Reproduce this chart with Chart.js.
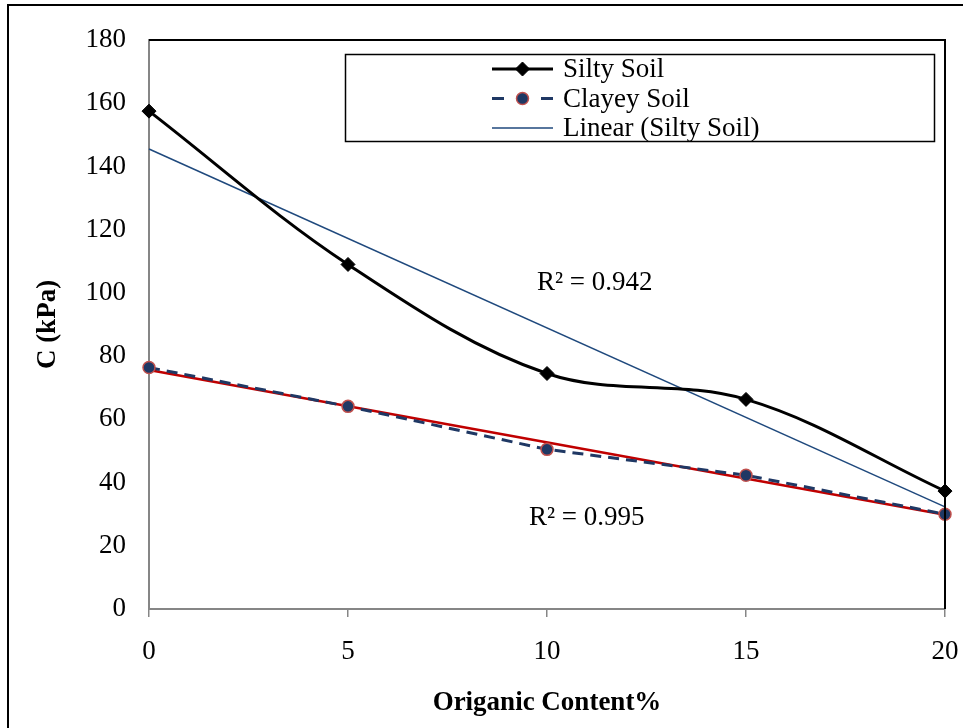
<!DOCTYPE html>
<html>
<head>
<meta charset="utf-8">
<script src="https://cdn.jsdelivr.net/npm/chart.js@4.4.1/dist/chart.umd.min.js"></script>
<style>
  body { margin: 0; background: #fff; overflow: hidden; }
</style>
</head>
<body>
<canvas id="myChart" width="963" height="728"></canvas>
<script>
let organic = [0, 5, 10, 15, 20];
let silty = [157.5, 109, 74.5, 66.3, 37.3];
let clayey = [76.4, 64.1, 50.5, 42.3, 30];

// trendline end points
let trendX = [0, 20];
let siltyTrend = [145.5, 32.3];
let clayeyTrend = [75.6, 29.8];

let xTicks = [0, 5, 10, 15, 20];
let yTicks = [0, 20, 40, 60, 80, 100, 120, 140, 160, 180];

let r2Text = ["R\u00b2 = 0.942", "R\u00b2 = 0.995"];
let r2X = [11.2, 11.0];
let r2Y = [103.3, 28.7];

const serif = '"Liberation Serif", "Times New Roman", serif';

function pts(xs, ys) {
  return xs.map((x, i) => ({ x: x, y: ys[i] }));
}

// legend drawn inside the plot, like the Excel one
const boxLegend = {
  id: "boxLegend",
  afterDatasetsDraw(chart) {
    let ctx = chart.ctx;
    ctx.save();
    ctx.fillStyle = "#fff";
    ctx.fillRect(345, 54, 589, 87);
    ctx.strokeStyle = "#000";
    ctx.lineWidth = 1.5;
    ctx.strokeRect(345.5, 54.5, 589, 87);

    [0, 1, 2].forEach((idx, i) => {
      let ds = chart.data.datasets[idx];
      let y = 69 + i * 29.5;
      let x0 = 492, x1 = 553;
      ctx.strokeStyle = ds.borderColor;
      ctx.lineWidth = ds.borderWidth;
      ctx.setLineDash([]);
      ctx.beginPath();
      if (ds.borderDash) {
        ctx.moveTo(x0, y); ctx.lineTo(x0 + 12, y);
        ctx.moveTo(x1 - 12, y); ctx.lineTo(x1, y);
      } else {
        ctx.moveTo(x0, y); ctx.lineTo(x1, y);
      }
      ctx.stroke();
      if (ds.pointRadius > 0) {
        ctx.fillStyle = ds.pointBackgroundColor;
        ctx.strokeStyle = ds.pointBorderColor;
        ctx.lineWidth = ds.pointBorderWidth;
        Chart.helpers.drawPoint(ctx, {
          pointStyle: ds.pointStyle,
          radius: ds.pointRadius,
          borderWidth: ds.pointBorderWidth,
          rotation: 0
        }, (x0 + x1) / 2, y);
      }
      ctx.fillStyle = "#000";
      ctx.font = "27px " + serif;
      ctx.textBaseline = "middle";
      ctx.textAlign = "left";
      ctx.fillText(ds.label, 563, y + 1);
    });
    ctx.restore();
  }
};

const extras = {
  id: "extras",
  afterDatasetsDraw(chart) {
    let ctx = chart.ctx;
    let sx = chart.scales.x, sy = chart.scales.y;
    ctx.save();
    ctx.fillStyle = "#000";
    ctx.font = "27px " + serif;
    ctx.textAlign = "center";
    ctx.textBaseline = "middle";
    r2Text.forEach((t, i) => {
      ctx.fillText(t, sx.getPixelForValue(r2X[i]), sy.getPixelForValue(r2Y[i]));
    });
    ctx.restore();
  },
  afterDraw(chart) {
    let ctx = chart.ctx;
    let a = chart.chartArea;
    ctx.save();
    ctx.strokeStyle = "#000";
    ctx.lineWidth = 2;
    ctx.beginPath();
    ctx.moveTo(a.left, a.top);
    ctx.lineTo(a.right, a.top);
    ctx.lineTo(a.right, a.bottom);
    ctx.stroke();
    // outer frame
    ctx.beginPath();
    ctx.moveTo(8, 728);
    ctx.lineTo(8, 5);
    ctx.lineTo(963, 5);
    ctx.stroke();
    ctx.restore();
  }
};

var ctx = document.getElementById("myChart").getContext("2d");
var myChart = new Chart(ctx, {
  type: "line",
  data: {
    datasets: [
      {
        label: "Silty Soil",
        data: pts(organic, silty),
        borderColor: "#000",
        borderWidth: 3,
        tension: 0.35,
        pointStyle: "rectRot",
        pointRadius: 7,
        pointBackgroundColor: "#000",
        pointBorderColor: "#000",
        pointBorderWidth: 1,
        clip: false,
        order: 0
      },
      {
        label: "Clayey Soil",
        data: pts(organic, clayey),
        borderColor: "#1F3864",
        borderWidth: 3,
        borderDash: [11, 7],
        pointStyle: "circle",
        pointRadius: 6,
        pointBackgroundColor: "#1F3864",
        pointBorderColor: "#C0504D",
        pointBorderWidth: 1.5,
        clip: false,
        order: 1
      },
      {
        label: "Linear (Silty Soil)",
        data: pts(trendX, siltyTrend),
        borderColor: "#1F497D",
        borderWidth: 1.5,
        pointRadius: 0,
        clip: false,
        order: 2
      },
      {
        label: "Linear (Clayey Soil)",
        data: pts(trendX, clayeyTrend),
        borderColor: "#C00000",
        borderWidth: 2.5,
        pointRadius: 0,
        clip: false,
        order: 3
      }
    ]
  },
  options: {
    responsive: false,
    animation: false,
    layout: { padding: { left: 0, top: 40, right: 18, bottom: 0 } },
    plugins: {
      legend: { display: false },
      tooltip: { enabled: false }
    },
    scales: {
      x: {
        type: "linear",
        min: 0,
        max: 20,
        afterBuildTicks: (s) => { s.ticks = xTicks.map((v) => ({ value: v })); },
        afterFit: (s) => { s.height = 119; s.paddingLeft = 0; s.paddingRight = 0; },
        ticks: { color: "#000", font: { family: serif, size: 27 }, padding: 19 },
        grid: { drawOnChartArea: false, drawTicks: true, tickLength: 8, color: "#868686", lineWidth: 1.5 },
        border: { color: "#868686", width: 2 },
        title: {
          display: true,
          text: "Origanic Content%",
          color: "#000",
          font: { family: serif, size: 27, weight: "bold" },
          padding: { top: 0, bottom: 9 }
        }
      },
      y: {
        min: 0,
        max: 180,
        afterBuildTicks: (s) => { s.ticks = yTicks.map((v) => ({ value: v })); },
        afterFit: (s) => { s.width = 149; s.paddingTop = 0; s.paddingBottom = 0; },
        ticks: { color: "#000", font: { family: serif, size: 27 }, padding: 23 },
        grid: { display: false, drawTicks: false },
        border: { color: "#868686", width: 2 },
        title: {
          display: true,
          text: "C (kPa)",
          color: "#000",
          font: { family: serif, size: 27, weight: "bold" },
          padding: { top: 32, bottom: 0 }
        }
      }
    }
  },
  plugins: [boxLegend, extras]
});
</script>
</body>
</html>
